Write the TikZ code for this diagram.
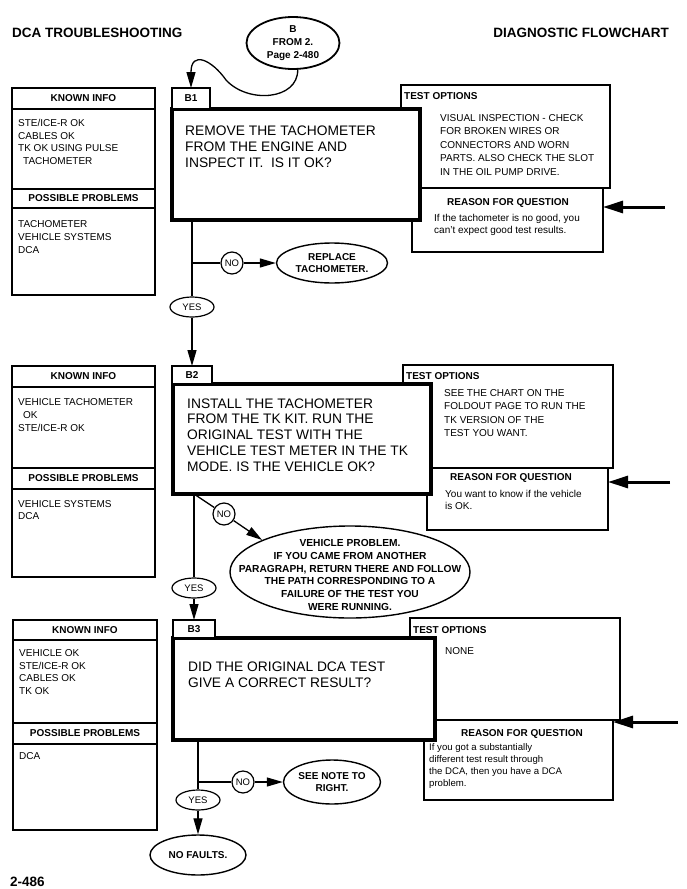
\documentclass[tikz,border=0pt]{standalone}
\usepackage{fontspec}
\setmainfont{Liberation Sans}
\usepackage{tikz}
\usetikzlibrary{shapes.geometric,arrows.meta,positioning}

\begin{document}
\begin{tikzpicture}[x=1pt,y=-1pt,
    box/.style={draw,line width=1.2pt,fill=white,inner sep=0pt,outer sep=0pt,
                anchor=north west},
    qbox/.style={draw,line width=4pt,fill=white,inner sep=0pt,outer sep=0pt,
                 anchor=north west},
    head/.style={box,minimum width=143pt,font=\fontsize{10}{12}\selectfont\bfseries},
    lbl/.style={inner sep=0pt,font=\fontsize{10}{12}\selectfont\bfseries},
    title/.style={inner sep=0pt,font=\fontsize{13.5}{15}\selectfont\bfseries},
    info/.style={inner sep=0pt,anchor=west,align=left,
                 font=\fontsize{10}{12.8}\selectfont},
    opt/.style={info,font=\fontsize{10}{13.5}\selectfont},
    ask/.style={inner sep=0pt,anchor=west,align=left,
                font=\fontsize{13.8}{15.8}\selectfont},
    endbox/.style={ellipse,draw,line width=1.4pt,fill=white,inner sep=0pt,
                   align=center,font=\fontsize{10}{12.8}\selectfont\bfseries},
    yesell/.style={ellipse,draw,line width=1.2pt,inner sep=0pt,
                   minimum width=44pt,minimum height=20pt,
                   font=\fontsize{9.5}{10}\selectfont},
    nocirc/.style={circle,draw,line width=1.2pt,inner sep=0pt,minimum size=22pt,
                   font=\fontsize{9.5}{10}\selectfont},
    flow/.style={line width=1.3pt},
    arr/.style={flow,-{Triangle[length=16pt,width=9pt]}},
    bigarr/.style={line width=3pt,-{Triangle[length=20pt,width=12pt]}}]

    \useasboundingbox (0,0) rectangle (687,889);

    % Page heading
    \node[title,anchor=west] (ttl) at (12,33) {DCA TROUBLESHOOTING};
    \node[title,anchor=east] (ttr) at (669,33) {DIAGNOSTIC FLOWCHART};
    \node[endbox,line width=1.8pt,minimum width=93pt,minimum height=52pt]
      (from) at (293,43) {};
    \node[lbl,align=center,font=\fontsize{10}{13}\selectfont\bfseries]
      (fromtxt) at (from) {B\\FROM 2.\\Page 2-480};

    % Step B1
    \node[box,minimum width=143pt,minimum height=207pt] (kn1) at (12,88) {};
    \node[head,minimum height=21pt] (ki1) at (12,88) {KNOWN INFO};
    \node[info] (kt1) at (18,142)
      {STE/ICE-R OK\\CABLES OK\\TK OK USING PULSE\\\hspace*{5pt}TACHOMETER};
    \node[head,minimum height=19pt] (pp1) at (12,189) {POSSIBLE PROBLEMS};
    \node[info] (pt1) at (18,237) {TACHOMETER\\VEHICLE SYSTEMS\\DCA};

    \node[box,minimum width=209pt,minimum height=103pt] (to1) at (401,85) {};
    \node[lbl,anchor=west] (tl1) at (404,96) {TEST OPTIONS};
    \node[opt] (tt1) at (440,145)
      {VISUAL INSPECTION - CHECK\\FOR BROKEN WIRES OR\\CONNECTORS AND WORN\\
       PARTS. ALSO CHECK THE SLOT\\IN THE OIL PUMP DRIVE.};
    \node[box,minimum width=191pt,minimum height=64pt] (rq1) at (412,188) {};
    \node[lbl] (rl1) at (508,203) {REASON FOR QUESTION};
    \node[info] (rt1) at (434,225)
      {If the tachometer is no good, you\\can't expect good test results.};
    \node[qbox,minimum width=248pt,minimum height=111pt] (q1) at (172,109) {};
    \node[box,lbl,minimum width=38pt,minimum height=21pt] (b1) at (172,88) {B1};
    \node[ask] (qt1) at (185,147)
      {REMOVE THE TACHOMETER\\FROM THE ENGINE AND\\INSPECT IT.\ \ IS IT OK?};
    \coordinate (ar1) at (665,207);

    \node[yesell] (yes1) at (192,307) {YES};
    \node[nocirc] (no1) at (232,263) {NO};
    \node[endbox,minimum width=111pt,minimum height=40pt] (rep) at (332,263)
      {REPLACE\\TACHOMETER.};

    % Step B2
    \node[box,minimum width=143pt,minimum height=211pt] (kn2) at (12,366) {};
    \node[head,minimum height=21pt] (ki2) at (12,366) {KNOWN INFO};
    \node[info] (kt2) at (18,415)
      {VEHICLE TACHOMETER\\\hspace*{5pt}OK\\STE/ICE-R OK};
    \node[head,minimum height=21pt] (pp2) at (12,468) {POSSIBLE PROBLEMS};
    \node[info] (pt2) at (18,510) {VEHICLE SYSTEMS\\DCA};

    \node[box,minimum width=210pt,minimum height=103pt] (to2) at (403,365) {};
    \node[lbl,anchor=west] (tl2) at (406,376) {TEST OPTIONS};
    \node[opt] (tt2) at (444,413)
      {SEE THE CHART ON THE\\FOLDOUT PAGE TO RUN THE\\TK VERSION OF THE\\TEST YOU WANT.};
    \node[box,minimum width=181pt,minimum height=62pt] (rq2) at (427,468) {};
    \node[lbl] (rl2) at (511,478) {REASON FOR QUESTION};
    \node[info] (rt2) at (445,500) {You want to know if the vehicle\\is OK.};
    \node[qbox,minimum width=258pt,minimum height=110pt] (q2) at (173,384) {};
    \node[box,lbl,minimum width=40pt,minimum height=18pt] (b2) at (172,366) {B2};
    \node[ask] (qt2) at (187,435)
      {INSTALL THE TACHOMETER\\FROM THE TK KIT. RUN THE\\ORIGINAL TEST WITH THE\\
       VEHICLE TEST METER IN THE TK\\MODE. IS THE VEHICLE OK?};
    \coordinate (ar2) at (670,482);

    \node[yesell] (yes2) at (194,588) {YES};
    \node[nocirc] (no2) at (224,514) {NO};
    \node[endbox,minimum width=240pt,minimum height=92pt] (vp) at (350,572) {};
    \node[lbl,align=center,font=\fontsize{10.2}{12.8}\selectfont\bfseries]
      (vptxt) at (350,575)
      {VEHICLE PROBLEM.\\IF YOU CAME FROM ANOTHER\\PARAGRAPH, RETURN THERE AND FOLLOW\\
       THE PATH CORRESPONDING TO A\\FAILURE OF THE TEST YOU\\WERE RUNNING.};

    % Step B3
    \node[box,minimum width=144pt,minimum height=210pt] (kn3) at (13,620) {};
    \node[head,minimum width=144pt,minimum height=20pt] (ki3) at (13,620) {KNOWN INFO};
    \node[info] (kt3) at (19,672)
      {VEHICLE OK\\STE/ICE-R OK\\CABLES OK\\TK OK};
    \node[head,minimum width=144pt,minimum height=21pt] (pp3) at (13,723) {POSSIBLE PROBLEMS};
    \node[info] (pt3) at (19,756) {DCA};

    \node[box,minimum width=210pt,minimum height=102pt] (to3) at (410,618) {};
    \node[lbl,anchor=west] (tl3) at (413,630) {TEST OPTIONS};
    \node[opt] (tt3) at (445,651) {NONE};
    \node[box,minimum width=189pt,minimum height=80pt] (rq3) at (424,720) {};
    \node[lbl] (rl3) at (522,734) {REASON FOR QUESTION};
    \node[info,font=\fontsize{9.6}{11.8}\selectfont] (rt3) at (429,766)
      {If you got a substantially\\different test result through\\
       the DCA, then you have a DCA\\problem.};
    \node[qbox,minimum width=262pt,minimum height=102pt] (q3) at (173,638) {};
    \node[box,lbl,minimum width=42pt,minimum height=18pt] (b3) at (173,620) {B3};
    \node[ask] (qt3) at (188,675)
      {DID THE ORIGINAL DCA TEST\\GIVE A CORRECT RESULT?};
    \coordinate (ar3) at (678,722);

    \node[yesell] (yes3) at (198,800) {YES};
    \node[nocirc] (no3) at (243,782) {NO};
    \node[endbox,minimum width=97pt,minimum height=44pt] (note) at (332,782)
      {SEE NOTE TO\\RIGHT.};
    \node[endbox,minimum width=96pt,minimum height=40pt] (nof) at (198,855)
      {NO FAULTS.};

    \node[title,anchor=west] (pg) at (10,882) {2-486};

    % Connectors
    \draw[arr] (from.-80) .. controls (298,100) and (248,104) .. (226,80)
      .. controls (212,60) and (191,50) .. (b1.north);

    \draw[flow] (q1.south -| yes1) -- (yes1);
    \draw[flow] (no1 -| yes1) -- (no1);
    \draw[arr] (no1) -- (rep);
    \draw[arr] (yes1) -- (b2.north);
    \draw[bigarr] (ar1) -- (ar1 -| rq1.east);

    \draw[flow] (q2.south -| yes2) -- (yes2);
    \draw[flow] (q2.south -| yes2) -- (no2);
    \draw[arr] (no2) -- (vp.160);
    \draw[arr] (yes2) -- (b3.north);
    \draw[bigarr] (ar2) -- (ar2 -| rq2.east);

    \draw[flow] (q3.south -| yes3) -- (yes3);
    \draw[flow] (no3 -| yes3) -- (no3);
    \draw[arr] (no3) -- (note);
    \draw[arr] (yes3) -- (nof);
    \draw[bigarr] (ar3) -- (ar3 -| rq3.east);
\end{tikzpicture}
\end{document}
